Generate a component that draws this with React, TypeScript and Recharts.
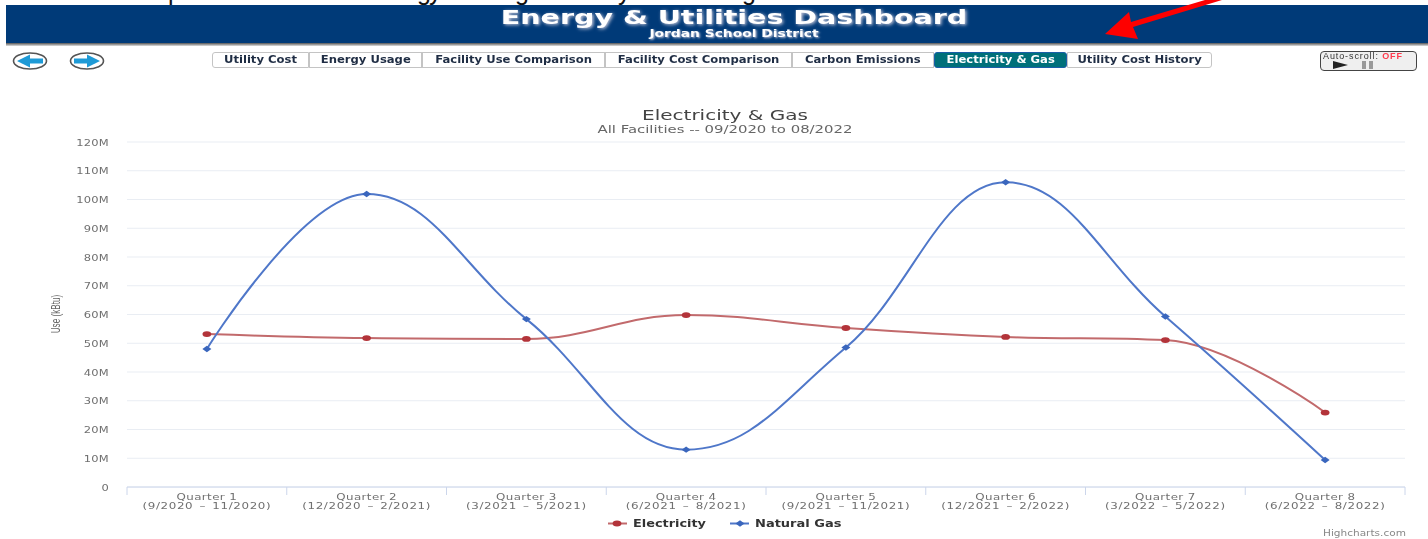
import { CartesianGrid, Line, LineChart, XAxis, YAxis } from "recharts";

// Dashboard screenshot: header, tab strip, then the Highcharts-style spline chart.

const quarters = ["Quarter 1", "Quarter 2", "Quarter 3", "Quarter 4", "Quarter 5", "Quarter 6", "Quarter 7", "Quarter 8"];
const ranges = [
  "(9/2020 – 11/2020)",
  "(12/2020 – 2/2021)",
  "(3/2021 – 5/2021)",
  "(6/2021 – 8/2021)",
  "(9/2021 – 11/2021)",
  "(12/2021 – 2/2022)",
  "(3/2022 – 5/2022)",
  "(6/2022 – 8/2022)",
];
const electricity = [53.2, 51.8, 51.5, 59.8, 55.3, 52.2, 51.1, 25.9];
const naturalGas = [48, 101.9, 58.4, 13, 48.5, 106, 59.3, 9.4];
const yTicks = [0, 10, 20, 30, 40, 50, 60, 70, 80, 90, 100, 110, 120];

const tabs = ["Utility Cost", "Energy Usage", "Facility Use Comparison", "Facility Cost Comparison", "Carbon Emissions", "Electricity & Gas", "Utility Cost History"];
const tabEdges = [212, 309, 422, 605, 792, 934, 1067, 1212];

const data = quarters.map((q, i) => ({ quarter: q, electricity: electricity[i], gas: naturalGas[i] }));

const RED = "#c26a6c";
const RED_DOT = "#b3343a";
const BLUE = "#4f77c9";
const BLUE_DOT = "#3a66bd";
const FONT = "'DejaVu Sans', sans-serif";
const BAND = 1278 / 8;

// same control point logic as a Highcharts spline, recharts just takes a d3-style curve factory
function hcSpline(context: any) {
  let pts: [number, number][] = [];
  const controls = (i: number) => {
    const [x, y] = pts[i];
    if (i < 1 || i >= pts.length - 1) return { lx: x, ly: y, rx: x, ry: y };
    const [px, py] = pts[i - 1];
    const [nx, ny] = pts[i + 1];
    const lx = (1.5 * x + px) / 2.5;
    let ly = (1.5 * y + py) / 2.5;
    const rx = (1.5 * x + nx) / 2.5;
    let ry = (1.5 * y + ny) / 2.5;
    const c = ((ry - ly) * (rx - x)) / (rx - lx) + y - ry;
    ly += c;
    ry += c;
    if (ly > py && ly > y) {
      ly = Math.max(py, y);
      ry = 2 * y - ly;
    } else if (ly < py && ly < y) {
      ly = Math.min(py, y);
      ry = 2 * y - ly;
    }
    if (ry > ny && ry > y) {
      ry = Math.max(ny, y);
      ly = 2 * y - ry;
    } else if (ry < ny && ry < y) {
      ry = Math.min(ny, y);
      ly = 2 * y - ry;
    }
    return { lx, ly, rx, ry };
  };
  return {
    areaStart() {},
    areaEnd() {},
    lineStart() {
      pts = [];
    },
    point(x: number, y: number) {
      pts.push([+x, +y]);
    },
    lineEnd() {
      pts.forEach(([x, y], i) => {
        if (i === 0) {
          context.moveTo(x, y);
          return;
        }
        const prev = controls(i - 1);
        const cur = controls(i);
        context.bezierCurveTo(prev.rx, prev.ry, cur.lx, cur.ly, x, y);
      });
    },
  };
}

function RedDot({ cx, cy }: any) {
  return <ellipse cx={cx} cy={cy} rx={4.4} ry={2.9} fill={RED_DOT} />;
}

function BlueDot({ cx, cy }: any) {
  return <path d={`M${cx - 4.5} ${cy}L${cx} ${cy - 3.2}L${cx + 4.5} ${cy}L${cx} ${cy + 3.2}Z`} fill={BLUE_DOT} />;
}

function QuarterTick({ x, y, payload, index }: any) {
  return (
    <g>
      <line x1={x - BAND / 2} x2={x - BAND / 2} y1={487} y2={495} stroke="#ccd6eb" />
      {index === quarters.length - 1 && <line x1={x + BAND / 2} x2={x + BAND / 2} y1={487} y2={495} stroke="#ccd6eb" />}
      <text transform={`translate(${x} ${y + 5}) scale(1.25 1)`} textAnchor="middle" fontFamily={FONT} fontSize={9.5} fill="#707070">
        <tspan x={0} dy={0} letterSpacing={0.3}>{payload.value}</tspan>
        <tspan x={0} dy={9.5} letterSpacing={0.5} wordSpacing={1.5}>{ranges[index]}</tspan>
      </text>
    </g>
  );
}

function ValueTick({ x, y, payload }: any) {
  return (
    <text transform={`translate(${x} ${y + 3.5}) scale(1.21 1)`} textAnchor="end" fontFamily={FONT} fontSize={9.5} letterSpacing={0.2} fill="#707070">
      {payload.value === 0 ? "0" : `${payload.value}M`}
    </text>
  );
}

// stretched text: the screenshot was widened, so glyphs are wider than any installed font
function Stretched({ cx, top, k, style, children }: any) {
  return (
    <div
      style={{
        position: "absolute",
        left: cx - 500,
        width: 1000,
        top,
        textAlign: "center",
        transform: `scaleX(${k})`,
        whiteSpace: "nowrap",
        ...style,
      }}
    >
      {children}
    </div>
  );
}

function Tabs() {
  return (
    <>
      {tabs.map((t, i) => {
        const active = t === "Electricity & Gas";
        const x = tabEdges[i];
        const w = tabEdges[i + 1] - x;
        return (
          <div
            key={t}
            style={{
              position: "absolute",
              left: x,
              top: 52,
              width: w,
              height: 16,
              boxSizing: "border-box",
              border: active ? "1px solid #1a5fa8" : "1px solid #c4c4c4",
              borderRadius: active ? 3 : i === 0 ? "3px 0 0 3px" : i === tabs.length - 1 ? "0 3px 3px 0" : 0,
              background: active ? "#00707a" : "#fff",
              color: active ? "#fff" : "#1f2d44",
              font: `bold 10px ${FONT}`,
              lineHeight: "14px",
              textAlign: "center",
              whiteSpace: "nowrap",
            }}
          >
            <span style={{ display: "inline-block", transform: "scaleX(1.16)" }}>{t}</span>
          </div>
        );
      })}
    </>
  );
}

function NavArrow({ x, dir }: { x: number; dir: 1 | -1 }) {
  return (
    <svg style={{ position: "absolute", left: x, top: 52 }} width={36} height={18}>
      <ellipse cx={18} cy={9} rx={16.5} ry={8} fill="#fff" stroke="#555" strokeWidth={1.6} />
      <g transform={dir > 0 ? undefined : "translate(36 0) scale(-1 1)"}>
        <path d="M5 6.5H18V2.5L31 9L18 15.5V11.5H5Z" fill="#1e9ad6" />
      </g>
    </svg>
  );
}

function Legend() {
  const text = { position: "absolute", top: 518, font: `bold 10px ${FONT}`, color: "#333", whiteSpace: "nowrap", transformOrigin: "left center" } as const;
  return (
    <>
      <svg style={{ position: "absolute", left: 600, top: 515 }} width={160} height={16}>
        <line x1={8} x2={27} y1={8.5} y2={8.5} stroke={RED} strokeWidth={2} />
        <RedDot cx={17} cy={8.5} />
        <line x1={130} x2={149} y1={8.5} y2={8.5} stroke={BLUE} strokeWidth={2} />
        <BlueDot cx={140} cy={8.5} />
      </svg>
      <div style={{ ...text, left: 633, transform: "scaleX(1.286)" }}>Electricity</div>
      <div style={{ ...text, left: 755, transform: "scaleX(1.3)" }}>Natural Gas</div>
    </>
  );
}

export default function App() {
  return (
    <div style={{ position: "absolute", left: 0, top: 0, width: 1428, height: 539, overflow: "hidden", background: "#fff" }}>
      <div style={{ position: "absolute", inset: 0, filter: "blur(0.5px)" }}>
        {/* header band */}
        <div style={{ position: "absolute", left: 6, right: 0, top: 5, height: 38, background: "#003a78" }} />
        <div style={{ position: "absolute", left: 6, right: 0, top: 43, height: 3, background: "linear-gradient(#555, #ddd)" }} />
        <Stretched cx={734} top={8} k={1.425} style={{ font: `bold 20px/19px ${FONT}`, color: "#fff", textShadow: "1px 1px 3px #ccd" }}>
          Energy &amp; Utilities Dashboard
        </Stretched>
        <Stretched cx={734} top={28} k={1.256} style={{ font: `bold 11px/11px ${FONT}`, color: "#fff", textShadow: "1px 1px 2px #ccd" }}>
          Jordan School District
        </Stretched>

        <NavArrow x={12} dir={-1} />
        <NavArrow x={69} dir={1} />
        <Tabs />

        {/* auto-scroll box */}
        <div style={{ position: "absolute", left: 1320, top: 51, width: 97, height: 20, boxSizing: "border-box", border: "1px solid #444", borderRadius: 4, background: "#efefef" }} />
        <div style={{ position: "absolute", left: 1323, top: 51, font: "9px 'Liberation Sans', sans-serif", color: "#333", letterSpacing: 0.9 }}>
          Auto-scroll: <span style={{ color: "#ff3b4e", fontWeight: "bold" }}>OFF</span>
        </div>
        <svg style={{ position: "absolute", left: 1330, top: 60 }} width={50} height={10}>
          <path d="M3 1L18 5L3 9Z" fill="#222" />
          <rect x={32} y={1} width={4} height={8} fill="#999" />
          <rect x={39} y={1} width={4} height={8} fill="#999" />
        </svg>

        <Stretched cx={725} top={107} k={1.43} style={{ font: `14px ${FONT}`, color: "#444" }}>
          Electricity &amp; Gas
        </Stretched>
        <Stretched cx={725} top={124} k={1.486} style={{ font: `10px ${FONT}`, color: "#666" }}>
          All Facilities -- 09/2020 to 08/2022
        </Stretched>

        <div style={{ position: "absolute", left: 0, top: 0 }}>
          <LineChart width={1428} height={539} data={data} margin={{ top: 142, right: 23, bottom: 0, left: 67 }}>
            <CartesianGrid vertical={false} stroke="#e9edf3" />
            <XAxis
              dataKey="quarter"
              scale="band"
              interval={0}
              height={52}
              tickLine={false}
              axisLine={{ stroke: "#ccd6eb" }}
              tick={<QuarterTick />}
            />
            <YAxis
              width={60}
              domain={[0, 120]}
              ticks={yTicks}
              interval={0}
              tickLine={false}
              axisLine={false}
              tickMargin={12}
              tick={<ValueTick />}
            />
            <Line dataKey="electricity" type={hcSpline as any} stroke={RED} strokeWidth={2} dot={<RedDot />} isAnimationActive={false} />
            <Line dataKey="gas" type={hcSpline as any} stroke={BLUE} strokeWidth={2} dot={<BlueDot />} isAnimationActive={false} />
          </LineChart>
        </div>

        {/* y axis title, squeezed in the screenshot */}
        <div style={{ position: "absolute", left: 56, top: 314, transform: "translate(-50%, -50%) rotate(-90deg) scaleX(0.68)", font: "12px 'Liberation Sans', sans-serif", color: "#666", whiteSpace: "nowrap" }}>
          Use (kBtu)
        </div>

        <Legend />
        <div style={{ position: "absolute", left: 1323, top: 529, font: `8px ${FONT}`, transform: "scaleX(1.316)", transformOrigin: "left center", color: "#888" }}>Highcharts.com</div>
      </div>

      {/* page text cropped off at the top edge, only the descenders are visible */}
      {[["p", 168], ["g", 417], ["y", 429], ["g", 515], ["y", 618], ["g", 742]].map(([ch, x]) => (
        <div key={`${ch}${x}`} style={{ position: "absolute", left: x as number, top: -24, font: "25px/30px 'Liberation Sans', sans-serif", color: "#111" }}>
          {ch}
        </div>
      ))}

      {/* red annotation arrow */}
      <svg style={{ position: "absolute", left: 0, top: 0 }} width={1428} height={60}>
        <path d="M1105 34L1129 12L1131 22L1205 0L1222 0L1133 27L1138 39Z" fill="#fe0000" />
      </svg>
    </div>
  );
}
